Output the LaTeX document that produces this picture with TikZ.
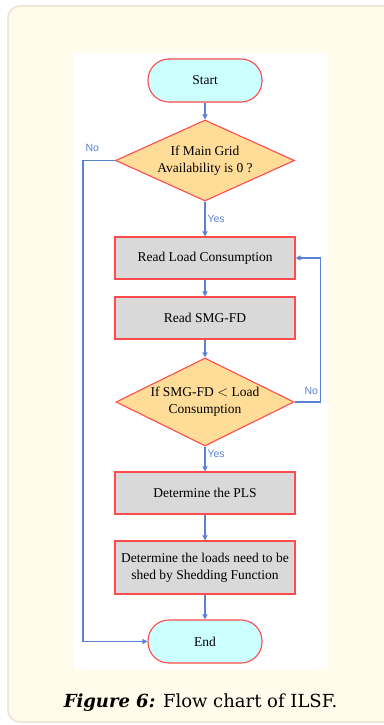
\documentclass[tikz,border=0pt]{standalone}
\usepackage{fontspec}
\setmainfont{Liberation Serif}
\newfontfamily\labelfont{Liberation Sans}
\newfontfamily\capfont{DejaVu Serif}
\usetikzlibrary{shapes.geometric,arrows.meta}
\definecolor{cream}{HTML}{FFFCEB}
\definecolor{framegrey}{HTML}{ECE9DF}
\definecolor{termfill}{HTML}{CCFFFF}
\definecolor{decfill}{HTML}{FFDD99}
\definecolor{boxfill}{HTML}{D9D9D9}
\definecolor{edgered}{HTML}{FF4B4B}
\definecolor{flowblue}{HTML}{5B82D2}
\tikzset{
  chart/.style={font=\fontsize{13.5}{17}\selectfont, align=center, inner sep=0pt, line width=1.1pt},
  terminal/.style={chart, draw=edgered, fill=termfill, rectangle, rounded corners=21pt,
    minimum width=114pt, minimum height=43pt},
  decision/.style={chart, draw=edgered, fill=decfill, diamond, aspect=2.2,
    minimum width=179pt, minimum height=81pt},
  process/.style={chart, draw=edgered, fill=boxfill, rectangle,
    minimum width=180pt, minimum height=42pt},
  flow/.style={draw=flowblue, line width=1.1pt, -{Triangle[length=5pt,width=5pt]}},
  flowlabel/.style={font=\labelfont\fontsize{10.5}{12}\selectfont, text=flowblue, inner sep=2pt},
  captext/.style={font=\capfont\fontsize{18}{22}\selectfont}
}
\begin{document}
\begin{tikzpicture}[x=1pt,y=-1pt]
  \useasboundingbox (0,0) rectangle (383,725);
  \fill[white] (0,0) rectangle (383,725);
  \draw[framegrey, line width=2pt, fill=cream, rounded corners=12pt] (8,6) rectangle (400,722);
  \fill[white] (74,53) rectangle (328,669);

  \node[terminal] (start) at (205,80.5) {Start};
  \node[decision] (grid) at (205,160.5) {If Main Grid\\Availability is 0 ?};
  \node[process] (readload) at (205,258) {Read Load Consumption};
  \node[process] (readsmg) at (205,318) {Read SMG-FD};
  \node[decision, aspect=2.02, minimum width=178pt, minimum height=88pt] (compare) at (205,402)
    {If SMG-FD $<$ Load\\Consumption};
  \node[process] (pls) at (205,493) {Determine the PLS};
  \node[process, minimum height=53pt] (shed) at (205,567.5) {Determine the loads need to be\\shed by Shedding Function};
  \node[terminal] (end) at (205,641.5) {End};

  \draw[flow] (start) -- (grid);
  \draw[flow] (grid) -- node[flowlabel, right] {Yes} (readload);
  \draw[flow] (readload) -- (readsmg);
  \draw[flow] (readsmg) -- (compare);
  \draw[flow] (compare.east) -- ++(26,0) node[flowlabel, above left, yshift=5pt] {No} |- (readload.east);
  \draw[flow] (compare) -- node[flowlabel, right, pos=0.3] {Yes} (pls);
  \draw[flow] (pls) -- (shed);
  \draw[flow] (shed) -- (end);
  \draw[flow] (grid.west) -- ++(-32,0) node[flowlabel, above right, yshift=6pt] {No} |- (end.west);

  \node[captext] (caption) at (200.5,703)
    {\textbf{\textit{Figure 6:}} Flow chart of ILSF.};
\end{tikzpicture}
\end{document}
